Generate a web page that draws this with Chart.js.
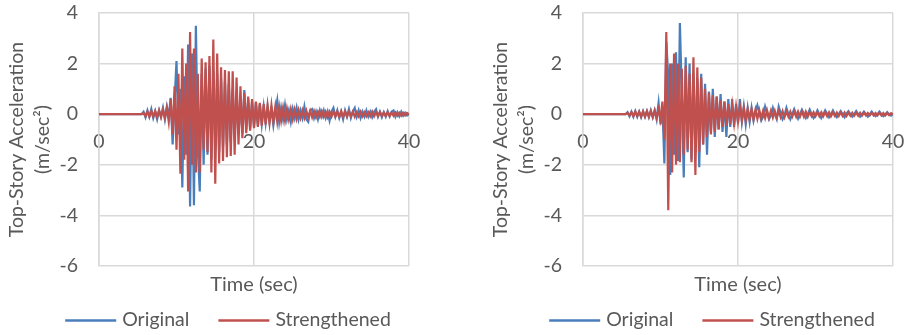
<!DOCTYPE html>
<html>
<head>
<meta charset="utf-8">
<script src="https://cdn.jsdelivr.net/npm/chart.js@4.4.1/dist/chart.umd.min.js"></script>
<style>
  html, body { margin: 0; padding: 0; background: #fff; overflow: hidden; }
  #wrap { position: relative; width: 905px; height: 335px; }
  canvas { position: absolute; top: 0; }
  #left { left: 0; }
  #right { left: 484px; }
</style>
</head>
<body>
<div id="wrap">
  <canvas id="left" width="484" height="335"></canvas>
  <canvas id="right" width="421" height="335"></canvas>
</div>
<script>
// Sampling instants (s): rest at t = 0, then every 0.25 s from 5.5 s to 40 s
const time = [0].concat(Array.from({ length: 139 }, (_, i) => 5.5 + 0.25 * i));

const seriesNames = ['Original', 'Strengthened'];
const xTitle = 'Time (sec)';
const yTitle = ['Top-Story Acceleration', '(m/sec²)'];
const xTicks = [0, 20, 40];
const yTicks = [-6, -4, -2, 0, 2, 4];

// Left panel, top-story acceleration (m/s²)
const originalA = [
  0,
  0, 0.1,
  -0.12, 0.15, -0.1, 0.2,
  -0.15, 0.12, -0.2, 0.15,
  -0.1, 0.25, -0.2, 0.3,
  -0.1, 0.65, -1.2, 0.5,
  2.1, -0.8, 1.0, -2.9,
  1.5, -1.6, 2.75, -3.65,
  2.4, -3.6, 3.5, -1.4,
  -3.05, 1.6, -2.0, 1.8,
  -1.6, 1.9, -1.8, 1.7,
  -1.5, 1.6, -1.5, 1.4,
  -1.3, 1.3, -1.2, 1.2,
  -1.1, 1.0, -1.0, 0.9,
  -0.8, 0.6, -0.75, 0.95,
  -0.6, 0.6, -0.55, 0.5,
  -0.5, 0.45, -0.45, 0.4,
  -0.4, 0.3, -0.35, 0.3,
  -0.3, 0.2, -0.43, 0.1,
  0.55, -0.3, 0.25, -0.2,
  0.35, -0.2, 0.15, -0.3,
  0.2, -0.15, 0.25, -0.2,
  0.15, -0.15, 0.3, -0.2,
  -0.3, 0.15, 0.2, -0.15,
  0.1, -0.2, 0.15, -0.1,
  0.15, -0.15, 0.1, -0.25,
  0.1, 0.25, -0.1, 0.15,
  -0.15, 0.1, -0.2, 0.15,
  -0.1, 0.2, -0.15, 0.1,
  0.25, -0.1, 0.15, -0.15,
  0.1, -0.1, 0.15, -0.1,
  0.1, -0.12, 0.1, 0.2,
  -0.1, 0.1, -0.12, 0.08,
  -0.1, 0.12, -0.08, 0.1,
  0.15, -0.1, 0.08, -0.08,
  0.1, -0.06, 0.06, -0.05,
  0
];
const strengthenedA = [
  0,
  0, 0.05,
  -0.08, 0.1, -0.1, 0.12,
  -0.1, 0.12, -0.12, 0.15,
  -0.12, 0.18, -0.15, 0.25,
  -0.3, 0.6, -0.8, 1.1,
  -1.4, 1.6, -2.35, 2.6,
  -1.8, 2.0, -3.05, 3.25,
  -2.0, 2.6, -2.3, 1.6,
  -2.3, 2.2, -1.4, 2.05,
  -1.5, 2.3, -2.3, 2.95,
  -2.75, 2.4, -1.95, 1.85,
  -1.85, 1.75, -1.7, 1.7,
  -1.65, 1.7, -1.6, 1.45,
  -1.2, 1.1, -0.95, 0.85,
  -0.75, 0.7, -0.65, 0.6,
  -0.55, 0.5, -0.5, 0.45,
  -0.45, 0.4, -0.4, 0.35,
  -0.35, 0.35, -0.3, 0.3,
  -0.3, 0.28, -0.25, 0.25,
  -0.25, 0.22, -0.2, 0.2,
  -0.2, 0.18, -0.18, 0.16,
  -0.15, 0.15, -0.15, 0.14,
  -0.13, 0.13, -0.12, 0.12,
  -0.12, 0.1, -0.1, 0.12,
  -0.1, 0.1, -0.12, 0.1,
  -0.1, 0.1, -0.1, 0.1,
  -0.1, 0.12, -0.1, 0.1,
  -0.1, 0.1, -0.08, 0.1,
  -0.1, 0.08, -0.08, 0.1,
  -0.08, 0.08, -0.08, 0.08,
  -0.08, 0.1, -0.08, 0.08,
  -0.07, 0.08, -0.07, 0.07,
  -0.07, 0.07, -0.08, 0.07,
  -0.06, 0.07, -0.06, 0.06,
  -0.06, 0.06, -0.05, 0.05,
  0
];

// Right panel, top-story acceleration (m/s²)
const originalB = [
  0,
  0, 0.08,
  -0.08, 0.1, -0.1, 0.12,
  -0.1, 0.1, -0.12, 0.12,
  -0.1, 0.12, -0.12, 0.15,
  -0.12, 0.15, -0.2, 0.45,
  -0.4, 0.3, -1.95, 2.85,
  1.5, -2.4, 2.0, -1.6,
  2.45, -1.85, 3.6, 0.8,
  -2.5, 2.25, -1.5, 2.0,
  -1.8, 1.6, -1.5, 1.4,
  -2.1, 1.6, -1.2, 1.2,
  -1.6, 0.9, -0.7, 1.0,
  -0.9, 0.7, -0.6, 0.8,
  -0.7, 0.5, -0.9, 0.6,
  -0.5, 0.6, -0.5, 0.4,
  -0.35, 0.6, -0.3, 0.3,
  -0.4, 0.25, -0.3, 0.25,
  -0.25, 0.1, 0.35, 0.05,
  -0.25, -0.1, 0.3, 0.05,
  -0.2, -0.05, 0.25, 0.0,
  -0.2, 0.3, 0.05, -0.2,
  -0.05, 0.25, 0.0, -0.2,
  0.0, 0.2, 0.0, -0.18,
  0.0, 0.18, 0.02, -0.15,
  0.0, 0.18, 0.0, -0.15,
  -0.02, 0.15, 0.0, -0.15,
  0.0, 0.15, 0.02, -0.12,
  0.0, 0.15, 0.0, -0.12,
  0.0, 0.12, 0.0, -0.12,
  0.02, 0.12, 0.0, -0.1,
  0.0, 0.12, 0.0, -0.1,
  0.0, 0.1, 0.0, -0.1,
  0.0, 0.1, 0.0, -0.08,
  0.0, 0.1, 0.0, -0.08,
  0.0, 0.08, 0.0, -0.06,
  0
];
const strengthenedB = [
  0,
  0, 0.05,
  -0.05, 0.08, -0.08, 0.1,
  -0.08, 0.1, -0.1, 0.1,
  -0.1, 0.12, -0.1, 0.12,
  -0.12, 0.15, -0.15, 0.2,
  -0.2, 0.5, -1.0, 3.25,
  -3.8, 2.0, -2.3, 2.4,
  -2.0, 2.0, -1.9, 1.8,
  -1.6, 1.9, -1.4, 1.6,
  -1.9, 2.25, -2.4, 1.85,
  -1.5, 1.45, -1.2, 1.0,
  -0.9, 0.85, -0.8, 0.75,
  -0.7, 0.7, -0.6, 0.55,
  -0.5, 0.5, -0.45, 0.4,
  -0.4, 0.35, -0.35, 0.3,
  -0.3, 0.3, -0.25, 0.25,
  -0.25, 0.2, -0.2, 0.2,
  -0.2, 0.18, -0.18, 0.16,
  -0.16, 0.15, -0.15, 0.15,
  -0.14, 0.14, -0.13, 0.13,
  -0.12, 0.12, -0.12, 0.12,
  -0.12, 0.1, -0.1, 0.1,
  -0.1, 0.1, -0.1, 0.1,
  -0.1, 0.1, -0.1, 0.1,
  -0.1, 0.08, -0.08, 0.08,
  -0.08, 0.08, -0.08, 0.08,
  -0.08, 0.08, -0.08, 0.08,
  -0.08, 0.07, -0.07, 0.07,
  -0.07, 0.07, -0.07, 0.07,
  -0.07, 0.06, -0.06, 0.06,
  -0.06, 0.06, -0.06, 0.06,
  -0.06, 0.06, -0.05, 0.05,
  -0.05, 0.05, -0.05, 0.05,
  -0.05, 0.05, -0.05, 0.05,
  -0.05, 0.04, -0.04, 0.04,
  0
];

const BLUE = '#4A7EBB';
const RED = '#C0504D';
const TEXT = '#595959';
const GRID = '#D9D9D9';
const FONT = 'Lato';
const FONT_SIZE = 19.5;

const toPoints = vals => time.map((t, i) => ({ x: t, y: vals[i] }));

// Axis title under the plot and a line-sample legend, centred on the plot
const captions = {
  id: 'captions',
  afterDraw(chart) {
    const { ctx, chartArea } = chart;
    const cx = (chartArea.left + chartArea.right) / 2;
    ctx.save();
    ctx.fillStyle = TEXT;
    ctx.textBaseline = 'middle';
    ctx.textAlign = 'center';
    ctx.font = '20px ' + FONT;
    ctx.fillText(xTitle, cx, chartArea.bottom + 19);

    ctx.font = FONT_SIZE + 'px ' + FONT;
    const lineLen = 51, textGap = 6, itemGap = 29;
    const items = chart.data.datasets.map(ds => ({
      label: ds.label, color: ds.borderColor, w: ctx.measureText(ds.label).width
    }));
    const total = items.reduce((s, it) => s + lineLen + textGap + it.w, 0) + itemGap * (items.length - 1);
    let x = cx - 26 - total / 2;
    const y = chartArea.bottom + 54;
    ctx.textAlign = 'left';
    items.forEach(it => {
      ctx.strokeStyle = it.color;
      ctx.lineWidth = 2.5;
      ctx.beginPath();
      ctx.moveTo(x, y + 0.5);
      ctx.lineTo(x + lineLen, y + 0.5);
      ctx.stroke();
      x += lineLen + textGap;
      ctx.fillStyle = TEXT;
      ctx.fillText(it.label, x, y);
      x += it.w + itemGap;
    });
    ctx.restore();
  }
};

function makeChart(id, orig, strong, padRight) {
  const tickFont = { family: FONT, size: FONT_SIZE };
  return new Chart(document.getElementById(id), {
    type: 'line',
    data: {
      datasets: [
        { label: seriesNames[0], data: toPoints(orig), borderColor: BLUE, order: 2 },
        { label: seriesNames[1], data: toPoints(strong), borderColor: RED, order: 1 }
      ]
    },
    options: {
      responsive: false,
      animation: false,
      events: [],
      layout: { padding: { left: 0, top: 13, right: padRight, bottom: 69 } },
      elements: {
        point: { radius: 0 },
        line: { borderWidth: 2.2, tension: 0, fill: false }
      },
      plugins: { legend: { display: false }, tooltip: { enabled: false } },
      scales: {
        x: {
          type: 'linear',
          min: xTicks[0],
          max: xTicks[xTicks.length - 1],
          position: { y: 0 },
          afterFit: s => { s.height = 0; s.paddingLeft = 0; s.paddingRight = 0; },
          afterBuildTicks: s => { s.ticks = xTicks.map(v => ({ value: v })); },
          ticks: { font: tickFont, color: TEXT, padding: 16, maxRotation: 0, autoSkip: false },
          grid: { color: GRID, lineWidth: 1.5, drawTicks: false },
          border: { color: GRID, width: 1.5 }
        },
        y: {
          min: yTicks[0],
          max: yTicks[yTicks.length - 1],
          afterFit: s => { s.width = 99; s.paddingTop = 0; s.paddingBottom = 0; },
          afterBuildTicks: s => { s.ticks = yTicks.map(v => ({ value: v })); },
          ticks: { font: tickFont, color: TEXT, padding: 21 },
          grid: { color: GRID, lineWidth: 1.5, drawTicks: false },
          border: { color: GRID, width: 1.5 },
          title: {
            display: true,
            text: yTitle,
            color: TEXT,
            font: { family: FONT, size: FONT_SIZE, lineHeight: 1.3 },
            padding: { top: 4.3, bottom: 0 }
          }
        }
      }
    },
    plugins: [captions]
  });
}

function draw() {
  makeChart('left', originalA, strengthenedA, 75);
  makeChart('right', originalB, strengthenedB, 12);
}

if (document.fonts && document.fonts.load) {
  document.fonts.load(FONT_SIZE + 'px ' + FONT).then(draw, draw);
} else {
  draw();
}
</script>
</body>
</html>
